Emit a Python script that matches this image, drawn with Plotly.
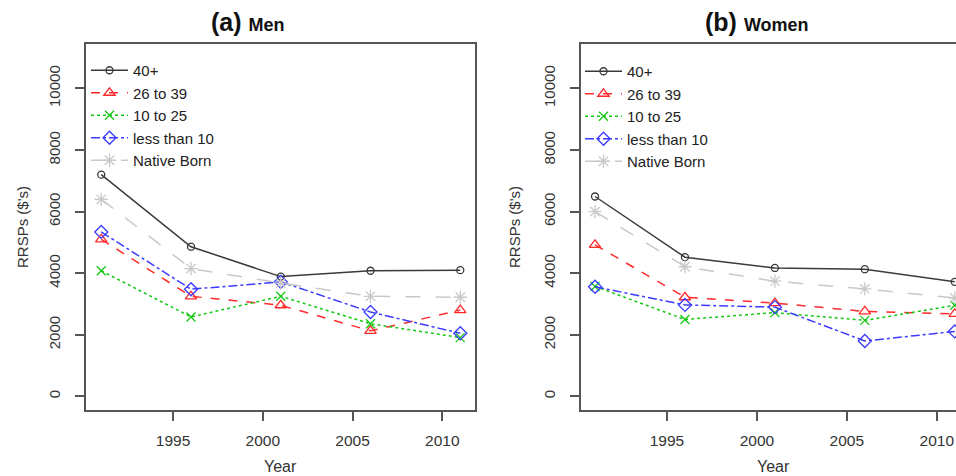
import plotly.graph_objects as go

W, H = 956, 476

years = [1991, 1996, 2001, 2006, 2011]
series_names = ["40+", "26 to 39", "10 to 25", "less than 10", "Native Born"]

men_40plus = [7200, 4860, 3890, 4080, 4100]
men_26_39 = [5100, 3250, 2960, 2130, 2800]
men_10_25 = [4080, 2580, 3250, 2360, 1910]
men_lt10 = [5340, 3480, 3720, 2740, 2050]
men_native = [6400, 4150, 3680, 3250, 3220]

women_40plus = [6490, 4520, 4170, 4130, 3720]
women_26_39 = [4920, 3220, 3030, 2760, 2680]
women_10_25 = [3570, 2500, 2720, 2470, 2960]
women_lt10 = [3560, 2970, 2900, 1800, 2110]
women_native = [6000, 4210, 3740, 3490, 3200]

x_ticks = [1995, 2000, 2005, 2010]
y_ticks = [0, 2000, 4000, 6000, 8000, 10000]
y_tick_labels = ["0", "2000", "4000", "6000", "8000", "10000"]

styles = [
    dict(color="#3a3a3a", dash="solid", symbol="circle-open", size=7),
    dict(color="#ff2b2b", dash="dash", symbol="triangle-up-open", size=10),
    dict(color="#14c814", dash="dot", symbol="x-thin-open", size=9),
    dict(color="#3b3bff", dash="dashdot", symbol="diamond-open", size=10),
    dict(color="#c9c9c9", dash="longdash", symbol="asterisk-open", size=11),
]

FONT = "Liberation Sans, Arial, sans-serif"
AX = "#555555"
TXT = "#333333"

fig = go.Figure()

panels = [
    ([men_40plus, men_26_39, men_10_25, men_lt10, men_native], "x", "y", "legend"),
    ([women_40plus, women_26_39, women_10_25, women_lt10, women_native], "x2", "y2", "legend2"),
]
for data, xa, ya, lg in panels:
    for name, vals, st in zip(series_names, data, styles):
        fig.add_trace(go.Scatter(
            x=years, y=vals, name=name, mode="lines+markers",
            xaxis=xa, yaxis=ya, legend=lg,
            line=dict(color=st["color"], dash=st["dash"], width=1.5),
            marker=dict(symbol=st["symbol"], size=st["size"], color=st["color"],
                        line=dict(color=st["color"], width=1.3)),
        ))

def px_x(p):
    return p / W

def px_y(p):
    return 1 - p / H

common_x = dict(tickvals=x_ticks, ticks="outside", ticklen=9, tickwidth=1.5, tickcolor=AX,
                showline=True, linecolor=AX, linewidth=1.5, showgrid=False, zeroline=False,
                tickfont=dict(family=FONT, size=15.5, color=TXT), ticklabelstandoff=7)
common_y = dict(tickvals=y_ticks, ticktext=y_tick_labels, ticks="outside", ticklen=9, tickwidth=1.5,
                tickcolor=AX, showline=True, linecolor=AX, linewidth=1.5, showgrid=False,
                zeroline=False, tickangle=-90, range=[-440, 11440],
                tickfont=dict(family=FONT, size=15, color=TXT), ticklabelstandoff=9)

fig.update_layout(
    width=W, height=H, margin=dict(l=0, r=0, t=0, b=0),
    paper_bgcolor="white", plot_bgcolor="white",
    font=dict(family=FONT, color=TXT),
    xaxis=dict(domain=[px_x(86), px_x(475)], range=[1990.15, 2011.82], anchor="y", mirror=True, **common_x),
    yaxis=dict(domain=[px_y(410), px_y(44)], anchor="x", mirror=True, **common_y),
    xaxis2=dict(domain=[px_x(581), 1.0], range=[1990.22, 2011.07], anchor="y2", mirror=True, **common_x),
    yaxis2=dict(domain=[px_y(410), px_y(44)], anchor="x2", mirror=False, **common_y),
    legend=dict(x=px_x(86), y=px_y(54), xanchor="left", yanchor="top", bgcolor="rgba(0,0,0,0)",
                font=dict(family=FONT, size=15, color="#222"), itemwidth=37, tracegroupgap=0),
    legend2=dict(x=px_x(580), y=px_y(55), xanchor="left", yanchor="top", bgcolor="rgba(0,0,0,0)",
                 font=dict(family=FONT, size=15, color="#222"), itemwidth=37, tracegroupgap=0),
    showlegend=True,
)

annots = [
    dict(text="<b><span style='font-size:25px'>(a) </span><span style='font-size:18px'>Men</span></b>",
         x=px_x(209), y=px_y(22), xanchor="left", yanchor="middle"),
    dict(text="<b><span style='font-size:25px'>(b) </span><span style='font-size:18px'>Women</span></b>",
         x=px_x(703), y=px_y(22), xanchor="left", yanchor="middle"),
    dict(text="RRSPs ($'s)", x=px_x(22), y=px_y(227), textangle=-90, xanchor="center", yanchor="middle",
         font=dict(size=15, color=TXT)),
    dict(text="RRSPs ($'s)", x=px_x(514), y=px_y(227), textangle=-90, xanchor="center", yanchor="middle",
         font=dict(size=15, color=TXT)),
    dict(text="Year", x=px_x(280), y=px_y(466), xanchor="center", yanchor="middle",
         font=dict(size=16, color=TXT)),
    dict(text="Year", x=px_x(773), y=px_y(466), xanchor="center", yanchor="middle",
         font=dict(size=16, color=TXT)),
]
for a in annots:
    a.update(xref="paper", yref="paper", showarrow=False)
    a.setdefault("font", dict(family=FONT, color="#111"))
    fig.add_annotation(**a)

fig.write_html("out.html", config={"displayModeBar": False},
               post_script="document.body.style.margin='0';document.body.style.overflow='hidden';")
